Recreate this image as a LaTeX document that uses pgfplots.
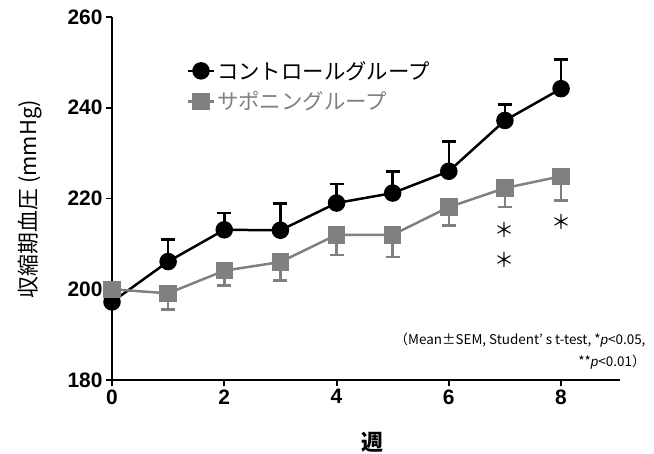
\documentclass[border=0pt]{standalone}
\usepackage{fontspec}
\setmainfont{Liberation Sans}
\newfontfamily\cjk{Noto Sans CJK JP}
\usepackage{pgfplots}
\pgfplotsset{compat=1.18}
\definecolor{sapo}{RGB}{128,128,128}
\begin{document}
\begin{tikzpicture}[x=1bp,y=1bp]
\begin{axis}[
  at={(0bp,0bp)}, anchor=south west,
  scale only axis, width=508bp, height=363bp,
  xmin=0, xmax=9.05, ymin=180, ymax=260,
  axis x line*=bottom, axis y line*=left,
  axis line style={line width=2.5pt, black},
  xtick={0,2,4,6,8}, ytick={180,200,220,240,260},
  tick align=outside, major tick length=6bp,
  tick style={line width=2pt, black},
  ticklabel style={font=\fontsize{21}{21}\selectfont\bfseries},
  /pgf/number format/assume math mode=true,
  clip=false,
  legend style={at={(axis cs:1.28,251.2)}, anchor=north west, draw=none, fill=none,
    font=\fontsize{21.5}{24}\selectfont\cjk, row sep=7bp},
  legend cell align=left,
  legend image code/.code={
    \draw[#1, mark repeat=2, mark phase=2] plot coordinates {(0cm,0cm) (0.45cm,0cm) (0.9cm,0cm)};
  },
]
\addplot[black, line width=2.5pt, mark=*, mark size=7.5bp,
  error bars/.cd, y dir=plus, y explicit,
  error bar style={line width=2.5pt, black},
  error mark options={rotate=90, mark size=7bp, line width=2.5pt, black}]
coordinates {
(0,197.2) += (0,0)
(1,206.1) += (0,4.9)
(2,213.1) += (0,3.7)
(3,213.0) += (0,5.9)
(4,219.0) += (0,4.2)
(5,221.2) += (0,4.8)
(6,226.0) += (0,6.6)
(7,237.2) += (0,3.5)
(8,244.2) += (0,6.4)
};
\addlegendentry{コントロールグループ}
\addplot[sapo, line width=2.5pt, mark=square*, mark size=7.5bp,
  error bars/.cd, y dir=minus, y explicit,
  error bar style={line width=2.5pt, sapo},
  error mark options={rotate=90, mark size=7bp, line width=2.5pt, sapo}]
coordinates {
(0,200.0) -= (0,1.0)
(1,199.1) -= (0,3.6)
(2,204.1) -= (0,3.3)
(3,206.0) -= (0,4.1)
(4,212.0) -= (0,4.4)
(5,212.0) -= (0,4.9)
(6,218.1) -= (0,4.1)
(7,222.3) -= (0,4.2)
(8,224.9) -= (0,5.3)
};
\addlegendentry{\textcolor{sapo}{サポニングループ}}
\node[font=\fontsize{20}{20}\selectfont\cjk] at (axis cs:7,213.1) {＊};
\node[font=\fontsize{20}{20}\selectfont\cjk] at (axis cs:7,206.5) {＊};
\node[font=\fontsize{20}{20}\selectfont\cjk] at (axis cs:8,214.9) {＊};
\end{axis}
\node[rotate=90, font=\fontsize{22}{22}\selectfont\cjk] at (-82bp,181bp) {収縮期血圧 (mmHg)};
\node[font=\fontsize{22}{22}\selectfont\cjk\bfseries] at (260bp,-62bp) {週};
\node[anchor=east, align=right, font=\fontsize{13.5}{22}\selectfont\cjk] at (537bp,29bp)
  {（Mean±SEM, Student’ s t-test, *{\rmfamily\itshape p}<0.05,\\ **{\rmfamily\itshape p}<0.01）};
\pgfresetboundingbox
\path (-112bp,-74bp) rectangle (542bp,380bp);
\end{tikzpicture}
\end{document}
